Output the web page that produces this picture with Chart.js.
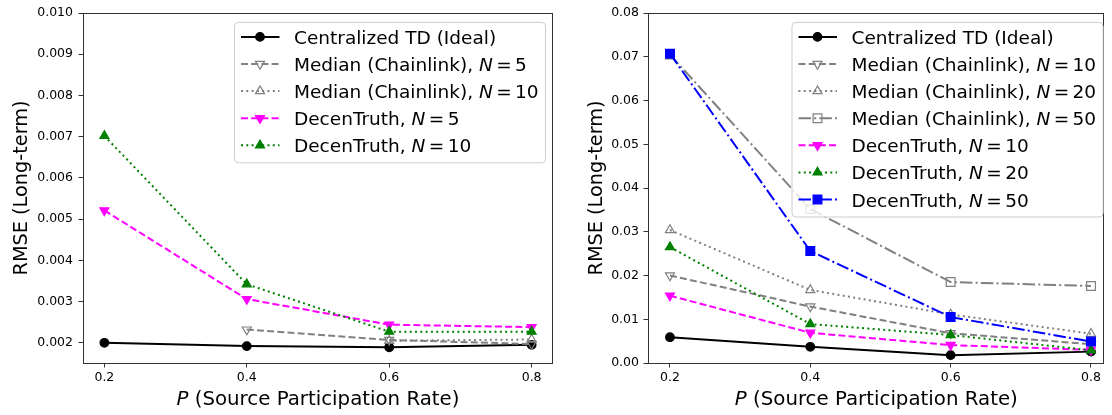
<!DOCTYPE html>
<html>
<head>
<meta charset="utf-8">
<script src="https://cdn.jsdelivr.net/npm/chart.js@4.4.1/dist/chart.umd.min.js"></script>
<style>
  html, body { margin: 0; padding: 0; background: #fff; overflow: hidden; width: 1112px; height: 415px; }
  .panel { position: absolute; top: 0; height: 415px; }
</style>
</head>
<body>
<div class="panel" style="left:0;width:560px"><canvas id="leftChart" width="560" height="415"></canvas></div>
<div class="panel" style="left:560px;width:552px"><canvas id="rightChart" width="552" height="415"></canvas></div>
<script>
// shared x values
const pValues = [0.2, 0.4, 0.6, 0.8];
const xTickLabels = ['0.2', '0.4', '0.6', '0.8'];

// left panel
const leftYTicks = [0.002, 0.003, 0.004, 0.005, 0.006, 0.007, 0.008, 0.009, 0.010];
const leftYTickLabels = ['0.002', '0.003', '0.004', '0.005', '0.006', '0.007', '0.008', '0.009', '0.010'];
const leftLabels = ['Centralized TD (Ideal)', 'Median (Chainlink), N = 5', 'Median (Chainlink), N = 10', 'DecenTruth, N = 5', 'DecenTruth, N = 10'];
const leftCentralized = [0.00200, 0.00192, 0.00189, 0.00195];
const leftMedianN5 = [null, 0.00232, 0.00207, 0.00197];
const leftMedianN10 = [null, null, 0.00205, 0.00208];
const leftDecenN5 = [0.00521, 0.00306, 0.00244, 0.00238];
const leftDecenN10 = [0.00702, 0.00342, 0.00227, 0.00227];

// right panel
const rightYTicks = [0, 0.01, 0.02, 0.03, 0.04, 0.05, 0.06, 0.07, 0.08];
const rightYTickLabels = ['0.00', '0.01', '0.02', '0.03', '0.04', '0.05', '0.06', '0.07', '0.08'];
const rightLabels = ['Centralized TD (Ideal)', 'Median (Chainlink), N = 10', 'Median (Chainlink), N = 20', 'Median (Chainlink), N = 50', 'DecenTruth, N = 10', 'DecenTruth, N = 20', 'DecenTruth, N = 50'];
const rightCentralized = [0.0059, 0.0037, 0.0018, 0.0026];
const rightMedianN10 = [0.0200, 0.0129, 0.0068, 0.0043];
const rightMedianN20 = [0.0304, 0.0167, 0.0111, 0.0067];
const rightMedianN50 = [0.0705, 0.0352, 0.0185, 0.0176];
const rightDecenN10 = [0.0154, 0.0069, 0.0041, 0.0030];
const rightDecenN20 = [0.0265, 0.0089, 0.0064, 0.0029];
const rightDecenN50 = [0.0707, 0.0256, 0.0105, 0.0049];

const FONT = "'DejaVu Sans', sans-serif";
const GRAY = '#808080';
const DASHED = [7, 3.2], DOTTED = [2, 3.3], DASHDOT = [12.5, 3.2, 2, 3.2];

const styles = {
  centralized: { color: '#000000', dash: [], marker: 'circle', rot: 0, r: 4.3, hollow: false },
  medDashed:   { color: GRAY, dash: DASHED, marker: 'triangle', rot: 180, r: 5.2, hollow: true },
  medDotted:   { color: GRAY, dash: DOTTED, marker: 'triangle', rot: 0, r: 5.2, hollow: true },
  medDashDot:  { color: GRAY, dash: DASHDOT, marker: 'rect', rot: 0, r: 6.2, hollow: true },
  decDashed:   { color: '#ff00ff', dash: DASHED, marker: 'triangle', rot: 180, r: 5.2, hollow: false },
  decDotted:   { color: '#008000', dash: DOTTED, marker: 'triangle', rot: 0, r: 5.2, hollow: false },
  decDashDot:  { color: '#0000ff', dash: DASHDOT, marker: 'rect', rot: 0, r: 6.2, hollow: false }
};

function makeDataset(label, values, st, i, n) {
  return {
    label: label,
    data: pValues.map((p, k) => ({ x: p, y: values[k] })),
    borderColor: st.color,
    borderWidth: 2,
    borderDash: st.dash,
    pointStyle: st.marker,
    pointRotation: st.rot,
    pointRadius: st.r,
    pointHoverRadius: st.r,
    pointBorderWidth: 1.2,
    pointBorderColor: st.color,
    pointBackgroundColor: st.hollow ? 'rgba(255,255,255,0)' : st.color,
    tension: 0,
    fill: false,
    order: n - i
  };
}

// split "..., N = 5" so N can be italic and the "=" gets tighter math spacing
function richParts(label) {
  const m = label.match(/^(.*, )N = (.*)$/);
  if (!m) return [{ t: label, it: false }];
  return [
    { t: m[1], it: false }, { t: 'N', it: true },
    { t: '=', it: false, gap: 3.4 }, { t: m[2], it: false, gap: 3.4 }
  ];
}
function measureRich(ctx, parts, size) {
  let w = 0;
  parts.forEach(p => {
    ctx.font = (p.it ? 'italic ' : '') + size + 'px ' + FONT;
    w += (p.gap || 0) + ctx.measureText(p.t).width;
  });
  return w;
}
function drawRich(ctx, parts, x, y, size) {
  ctx.textAlign = 'left';
  ctx.textBaseline = 'alphabetic';
  ctx.fillStyle = '#000';
  parts.forEach(p => {
    ctx.font = (p.it ? 'italic ' : '') + size + 'px ' + FONT;
    x += p.gap || 0;
    ctx.fillText(p.t, x, y);
    x += ctx.measureText(p.t).width;
  });
}

const framePlugin = {
  id: 'frame',
  afterDatasetsDraw(chart, args, opts) {
    const ctx = chart.ctx, a = chart.chartArea;
    ctx.save();
    // axes box
    const l = Math.floor(a.left) + 0.5, r = Math.floor(a.right) - 0.5;
    const t = Math.floor(a.top) + 0.5, b = Math.floor(a.bottom) + 0.5;
    ctx.strokeStyle = '#333';
    ctx.lineWidth = 1;
    ctx.setLineDash([]);
    ctx.strokeRect(l, t, r - l, b - t);

    // legend
    const size = 18.5;
    const sets = chart.data.datasets;
    const textW = Math.max(...sets.map(ds => measureRich(ctx, richParts(ds.label), size)));
    const boxW = 59.5 + textW + 7;
    const boxH = 14.5 + (sets.length - 1) * 27.1 + 17.5;
    const x0 = a.right - opts.insetRight - boxW;
    const y0 = a.top + opts.insetTop;
    ctx.beginPath();
    ctx.roundRect(x0, y0, boxW, boxH, 4);
    ctx.fillStyle = 'rgba(255,255,255,0.8)';
    ctx.fill();
    ctx.strokeStyle = '#cccccc';
    ctx.lineWidth = 1;
    ctx.stroke();
    sets.forEach((ds, i) => {
      const cy = y0 + 14.5 + i * 27.1;
      ctx.strokeStyle = ds.borderColor;
      ctx.lineWidth = ds.borderWidth;
      ctx.setLineDash(ds.borderDash);
      ctx.lineCap = 'butt';
      ctx.beginPath();
      ctx.moveTo(x0 + 6.5, cy);
      ctx.lineTo(x0 + 45, cy);
      ctx.stroke();
      ctx.setLineDash([]);
      ctx.fillStyle = ds.pointBackgroundColor;
      ctx.strokeStyle = ds.pointBorderColor;
      ctx.lineWidth = ds.pointBorderWidth;
      Chart.helpers.drawPoint(ctx, {
        pointStyle: ds.pointStyle, rotation: ds.pointRotation,
        radius: ds.pointRadius, borderWidth: ds.pointBorderWidth
      }, x0 + 25.5, cy);
      drawRich(ctx, richParts(ds.label), x0 + 59.5, cy + 7, size);
    });

    // x axis title with italic P
    const parts = [{ t: 'P', it: true }, { t: ' (Source Participation Rate)', it: false }];
    const w = measureRich(ctx, parts, 19.8);
    drawRich(ctx, parts, (a.left + a.right) / 2 - w / 2, 405, 19.8);
    ctx.restore();
  }
};

function makeChart(id, cfg) {
  const n = cfg.series.length;
  return new Chart(document.getElementById(id), {
    type: 'line',
    data: {
      datasets: cfg.series.map((s, i) => makeDataset(cfg.labels[i], s.values, s.style, i, n))
    },
    options: {
      responsive: false,
      animation: false,
      events: [],
      layout: { padding: { left: 0, top: 13, right: cfg.padRight, bottom: 0 } },
      plugins: {
        legend: { display: false },
        tooltip: { enabled: false },
        frame: { insetRight: cfg.insetRight, insetTop: 9.4 }
      },
      scales: {
        x: {
          type: 'linear',
          min: cfg.xMin,
          max: cfg.xMax,
          border: { display: false },
          grid: { drawOnChartArea: false, drawTicks: true, tickLength: 4.5, tickColor: '#333', lineWidth: 1 },
          ticks: {
            color: '#000', padding: 3, maxRotation: 0,
            font: { family: FONT, size: 12.5 },
            callback: (v, idx) => xTickLabels[idx]
          },
          afterBuildTicks: s => { s.ticks = pValues.map(v => ({ value: v })); },
          afterFit: s => { s.height = 52; s.paddingLeft = 0; s.paddingRight = 0; }
        },
        y: {
          min: cfg.yMin,
          max: cfg.yMax,
          border: { display: false },
          grid: { drawOnChartArea: false, drawTicks: true, tickLength: 4.5, tickColor: '#333', lineWidth: 1 },
          ticks: {
            color: '#000', padding: cfg.tickPad,
            font: { family: FONT, size: 12.5 },
            callback: (v, idx) => cfg.yTickLabels[idx]
          },
          title: {
            display: true, text: 'RMSE (Long-term)', color: '#000',
            font: { family: FONT, size: 19.3, lineHeight: 1.2 },
            padding: { top: cfg.titlePad, bottom: 0 }
          },
          afterBuildTicks: s => { s.ticks = cfg.yTicks.map(v => ({ value: v })); },
          afterFit: s => { s.width = cfg.axisWidth; s.paddingTop = 0; s.paddingBottom = 0; }
        }
      }
    },
    plugins: [framePlugin]
  });
}

makeChart('leftChart', {
  labels: leftLabels,
  series: [
    { values: leftCentralized, style: styles.centralized },
    { values: leftMedianN5, style: styles.medDashed },
    { values: leftMedianN10, style: styles.medDotted },
    { values: leftDecenN5, style: styles.decDashed },
    { values: leftDecenN10, style: styles.decDotted }
  ],
  yTicks: leftYTicks, yTickLabels: leftYTickLabels,
  yMin: 0.00151, yMax: 0.010, xMin: 0.17, xMax: 0.83,
  axisWidth: 83, padRight: 7, tickPad: 5.5, titlePad: 10.5, insetRight: 7.4
});

makeChart('rightChart', {
  labels: rightLabels,
  series: [
    { values: rightCentralized, style: styles.centralized },
    { values: rightMedianN10, style: styles.medDashed },
    { values: rightMedianN20, style: styles.medDotted },
    { values: rightMedianN50, style: styles.medDashDot },
    { values: rightDecenN10, style: styles.decDashed },
    { values: rightDecenN20, style: styles.decDotted },
    { values: rightDecenN50, style: styles.decDashDot }
  ],
  yTicks: rightYTicks, yTickLabels: rightYTickLabels,
  yMin: 0, yMax: 0.08, xMin: 0.1687, xMax: 0.8194,
  axisWidth: 88, padRight: 0.5, tickPad: 4.5, titlePad: 25, insetRight: 1.5
});
</script>
</body>
</html>
